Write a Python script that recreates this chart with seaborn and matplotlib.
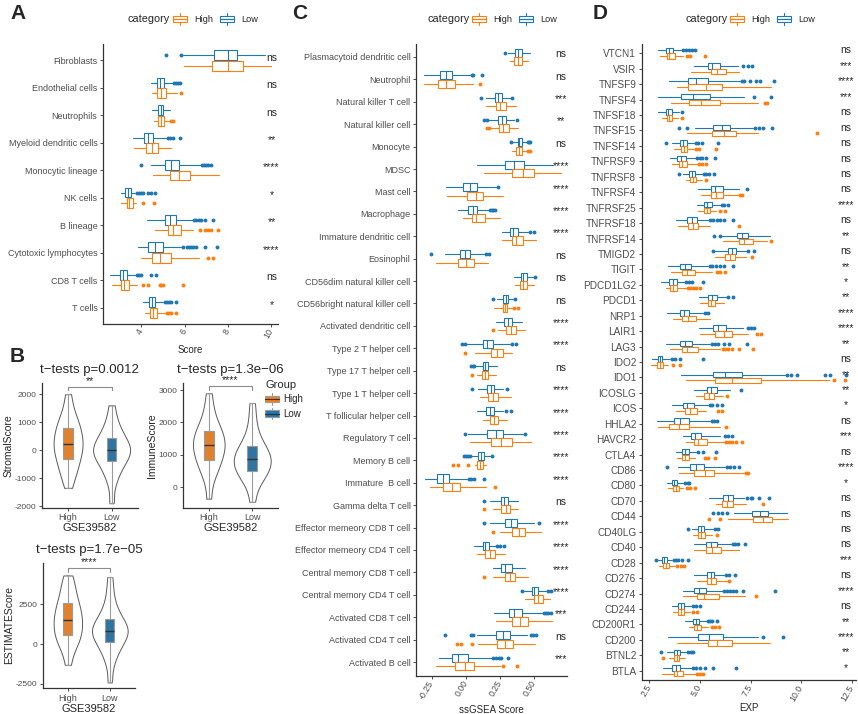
import numpy as np
import pandas as pd
import matplotlib
matplotlib.use("Agg")
import matplotlib.pyplot as plt
import seaborn as sns
from matplotlib.patches import Rectangle, Patch
from matplotlib.lines import Line2D
from matplotlib.legend_handler import HandlerBase

# ---- panel A: immune cell scores (MCP-counter) ----
# box stats per row: (lower whisker, q1, median, q3, upper whisker)
A_CELLS = ["Fibroblasts", "Endothelial cells", "Neutrophils", "Myeloid dendritic cells",
           "Monocytic lineage", "NK cells", "B lineage", "Cytotoxic lymphocytes",
           "CD8 T cells", "T cells"]
A_LOW = [(5.95, 7.37, 8.0, 8.41, 9.7), (4.46, 4.75, 4.89, 5.07, 5.44), (4.52, 4.8, 4.9, 5.03, 5.35),
         (3.63, 4.14, 4.34, 4.57, 5.18), (4.45, 5.09, 5.4, 5.76, 6.71), (3.07, 3.28, 3.4, 3.53, 3.72),
         (4.28, 5.12, 5.35, 5.61, 6.38), (3.86, 4.34, 4.63, 5.0, 5.87), (2.57, 3.03, 3.16, 3.34, 3.72),
         (4.11, 4.35, 4.49, 4.66, 5.03)]
A_LOW_OUT = [[5.15, 5.85], [5.5, 5.6, 5.7, 5.8], [], [5.26, 5.35, 5.45, 5.8],
             [3.99, 6.8, 6.9, 7.0, 7.1, 7.2], [3.8, 3.9, 4.0, 4.1, 4.3, 4.45, 4.64],
             [6.45, 6.55, 6.65, 6.75, 6.95, 7.3], [5.95, 6.1, 6.2, 6.3, 6.4, 6.55, 6.96, 7.51],
             [3.8, 3.9, 4.0, 4.45, 4.68], [5.1, 5.2, 5.3, 5.4, 5.61]]
A_HIGH = [(5.96, 7.28, 8.01, 8.7, 10.0), (4.49, 4.72, 4.93, 5.15, 5.64), (4.61, 4.8, 4.92, 5.06, 5.33),
          (3.69, 4.23, 4.49, 4.8, 5.38), (4.54, 5.33, 5.76, 6.27, 7.57), (3.1, 3.34, 3.46, 3.63, 3.77),
          (4.63, 5.23, 5.49, 5.82, 6.4), (3.99, 4.52, 4.89, 5.38, 6.68), (2.67, 3.07, 3.22, 3.43, 3.83),
          (4.16, 4.43, 4.57, 4.72, 5.13)]
A_HIGH_OUT = [[], [5.85], [5.38, 5.45], [], [], [4.08, 4.58], [6.7, 6.95, 7.1, 7.2, 7.55],
              [7.1, 7.3], [4.11, 4.32, 4.85, 4.92, 5.0, 5.92], [5.2, 5.3, 5.4, 5.62]]
A_SIG = ["ns", "ns", "ns", "**", "****", "*", "**", "****", "ns", "*"]

# ---- panel B: ESTIMATE scores (representative values per group) ----
STROMAL_HIGH = [-1350, -1000, -800, -650, -480, -330, -200, -80, 30, 120, 220,
                330, 450, 560, 680, 800, 930, 1080, 1250, 1550, 2000]
STROMAL_LOW = [-1900, -1200, -900, -700, -550, -400, -300, -220, -150, -80, 0,
               80, 150, 230, 320, 430, 550, 700, 900, 1150, 1600]
IMMUNE_HIGH = [-350, 200, 450, 600, 720, 830, 940, 1050, 1150, 1230, 1300,
               1380, 1470, 1560, 1650, 1750, 1870, 2000, 2200, 2500, 2900]
IMMUNE_LOW = [-450, 0, 200, 320, 420, 500, 580, 660, 730, 800, 870,
              940, 1010, 1090, 1170, 1270, 1400, 1550, 1800, 2150, 2600]
ESTIMATE_HIGH = [-1300, -500, -100, 150, 350, 550, 750, 950, 1150, 1320, 1500,
                 1700, 1900, 2100, 2300, 2550, 2800, 3100, 3500, 3900, 4300]
ESTIMATE_LOW = [-2400, -1200, -700, -350, -100, 130, 320, 480, 620, 740, 850,
                960, 1080, 1200, 1380, 1600, 1850, 2150, 2600, 3300, 4200]

# ---- panel C: ssGSEA immune infiltration ----
C_CELLS = ["Plasmacytoid dendritic cell", "Neutrophil", "Natural killer T cell", "Natural killer cell",
           "Monocyte", "MDSC", "Mast cell", "Macrophage", "Immature dendritic cell", "Eosinophil",
           "CD56dim natural killer cell", "CD56bright natural killer cell", "Activated dendritic cell",
           "Type 2 T helper cell", "Type 17 T helper cell", "Type 1 T helper cell",
           "T follicular helper cell", "Regulatory T cell", "Memory B cell", "Immature  B cell",
           "Gamma delta T cell", "Effector memeory CD8 T cell", "Effector memeory CD4 T cell",
           "Central memory CD8 T cell", "Central memory CD4 T cell", "Activated CD8 T cell",
           "Activated CD4 T cell", "Activated B cell"]
C_LOW = [(0.307, 0.36, 0.382, 0.409, 0.47), (-0.31, -0.193, -0.149, -0.1, 0.036),
         (0.148, 0.214, 0.236, 0.263, 0.324), (0.165, 0.236, 0.263, 0.292, 0.355),
         (0.348, 0.378, 0.392, 0.409, 0.446), (0.085, 0.287, 0.353, 0.428, 0.64),
         (-0.146, -0.022, 0.031, 0.08, 0.221), (-0.061, 0.019, 0.051, 0.085, 0.173),
         (0.263, 0.324, 0.348, 0.385, 0.458), (-0.156, -0.042, -0.005, 0.031, 0.136),
         (0.353, 0.404, 0.421, 0.446, 0.49), (0.227, 0.275, 0.292, 0.311, 0.348),
         (0.219, 0.28, 0.307, 0.336, 0.409), (0.007, 0.124, 0.153, 0.202, 0.324),
         (0.073, 0.124, 0.143, 0.165, 0.227), (0.088, 0.158, 0.182, 0.209, 0.275),
         (0.08, 0.148, 0.178, 0.207, 0.275), (0.019, 0.158, 0.219, 0.268, 0.417),
         (0.039, 0.092, 0.112, 0.134, 0.178), (-0.298, -0.212, -0.171, -0.12, 0.007),
         (0.173, 0.258, 0.28, 0.307, 0.385), (0.173, 0.287, 0.329, 0.373, 0.501),
         (0.063, 0.124, 0.143, 0.17, 0.221), (0.195, 0.258, 0.287, 0.336, 0.434),
         (0.426, 0.482, 0.499, 0.531, 0.585), (0.207, 0.317, 0.355, 0.414, 0.556),
         (0.08, 0.221, 0.275, 0.324, 0.446), (-0.2, -0.102, -0.054, 0.012, 0.19)]
C_LOW_OUT = [[0.285], [0.045, 0.055, 0.117], [0.112, 0.34], [0.129, 0.153, 0.373],
             [0.331, 0.452, 0.46, 0.47], [], [0.238], [0.18, 0.19, 0.2, 0.21], [0.47, 0.5],
             [-0.256, 0.148, 0.17], [0.507], [0.202, 0.36], [], [-0.025, -0.005, 0.336, 0.365],
             [0.036, 0.05, 0.06], [0.044, 0.3], [0.29, 0.33], [-0.005, 0.43],
             [-0.012, 0.0, 0.015, 0.03, 0.19], [0.02, 0.04, 0.06, 0.134], [0.136], [0.136, 0.538],
             [0.23, 0.25, 0.28], [], [0.414, 0.6, 0.62], [0.57, 0.585, 0.6, 0.62],
             [-0.151, 0.04, 0.05, 0.48, 0.49, 0.51], [0.2, 0.22, 0.24, 0.26, 0.307]]
C_HIGH = [(0.324, 0.355, 0.382, 0.414, 0.458), (-0.31, -0.205, -0.144, -0.083, 0.049),
          (0.146, 0.219, 0.253, 0.292, 0.368), (0.185, 0.241, 0.275, 0.319, 0.385),
          (0.341, 0.368, 0.387, 0.409, 0.446), (0.136, 0.341, 0.417, 0.501, 0.694),
          (-0.139, 0.007, 0.073, 0.124, 0.275), (-0.018, 0.044, 0.075, 0.141, 0.251),
          (0.263, 0.336, 0.368, 0.417, 0.514), (-0.217, -0.058, 0.0, 0.056, 0.165),
          (0.36, 0.397, 0.421, 0.446, 0.499), (0.207, 0.268, 0.287, 0.304, 0.336),
          (0.238, 0.295, 0.331, 0.365, 0.434), (0.068, 0.185, 0.227, 0.27, 0.341),
          (0.08, 0.117, 0.141, 0.165, 0.219), (0.1, 0.165, 0.202, 0.238, 0.329),
          (0.122, 0.173, 0.207, 0.238, 0.3), (0.031, 0.185, 0.258, 0.336, 0.475),
          (0.068, 0.085, 0.105, 0.124, 0.148), (-0.261, -0.171, -0.102, -0.042, 0.146),
          (0.202, 0.258, 0.292, 0.324, 0.385), (0.251, 0.341, 0.392, 0.434, 0.55),
          (0.08, 0.141, 0.173, 0.214, 0.287), (0.195, 0.287, 0.324, 0.36, 0.458),
          (0.43, 0.501, 0.526, 0.563, 0.616), (0.221, 0.336, 0.397, 0.458, 0.629),
          (0.092, 0.231, 0.287, 0.348, 0.507), (-0.217, -0.078, -0.01, 0.063, 0.251)]
C_HIGH_OUT = [[], [0.1], [], [0.153, 0.17], [0.455, 0.47], [], [], [], [], [], [],
              [0.353, 0.385], [0.202], [-0.005], [0.044], [], [], [], [-0.095, -0.054, 0.012],
              [0.214], [0.129], [0.202], [], [0.129], [], [], [-0.066, -0.034, 0.044], [0.27, 0.373]]
C_SIG = ["ns", "ns", "***", "**", "ns", "****", "****", "****", "****", "ns", "ns", "ns", "****",
         "****", "ns", "****", "****", "****", "****", "****", "ns", "****", "****", "****", "****",
         "***", "ns", "***"]

# ---- panel D: immune checkpoint expression ----
D_GENES = ["VTCN1", "VSIR", "TNFSF9", "TNFSF4", "TNFSF18", "TNFSF15", "TNFSF14", "TNFRSF9",
           "TNFRSF8", "TNFRSF4", "TNFRSF25", "TNFRSF18", "TNFRSF14", "TMIGD2", "TIGIT", "PDCD1LG2",
           "PDCD1", "NRP1", "LAIR1", "LAG3", "IDO2", "IDO1", "ICOSLG", "ICOS", "HHLA2", "HAVCR2",
           "CTLA4", "CD86", "CD80", "CD70", "CD44", "CD40LG", "CD40", "CD28", "CD276", "CD274",
           "CD244", "CD200R1", "CD200", "BTNL2", "BTLA"]
D_LOW = [(2.92, 3.33, 3.46, 3.66, 4.1), (4.71, 5.39, 5.6, 6.0, 6.9), (3.48, 4.4, 4.81, 5.42, 6.99),
         (2.95, 4.05, 4.68, 5.5, 7.2), (2.95, 3.33, 3.44, 3.64, 3.99), (4.76, 5.67, 6.08, 6.49, 7.64),
         (3.64, 4.02, 4.18, 4.35, 4.73), (3.53, 3.89, 4.07, 4.3, 4.76), (4.18, 4.48, 4.63, 4.78, 5.12),
         (4.93, 5.54, 5.75, 6.13, 6.94), (4.88, 5.22, 5.37, 5.6, 6.0), (3.82, 4.38, 4.61, 4.84, 5.42),
         (6.08, 6.85, 7.1, 7.4, 8.47), (5.75, 6.38, 6.57, 6.79, 7.31), (3.44, 4.02, 4.27, 4.56, 5.42),
         (3.08, 3.49, 3.66, 3.85, 4.27), (4.97, 5.42, 5.59, 5.83, 6.33), (3.36, 4.02, 4.23, 4.48, 5.17),
         (4.97, 5.63, 5.91, 6.28, 7.15), (3.33, 4.02, 4.27, 4.6, 5.5), (2.62, 2.92, 3.03, 3.15, 3.53),
         (4.07, 5.63, 6.24, 7.1, 9.21), (4.71, 5.34, 5.55, 5.83, 6.49), (3.61, 4.18, 4.38, 4.71, 5.42),
         (2.87, 3.72, 4.02, 4.46, 5.5), (4.15, 4.55, 4.76, 5.04, 6.0), (3.8, 4.13, 4.28, 4.46, 4.81),
         (3.94, 4.51, 4.81, 5.22, 6.24), (3.36, 3.64, 3.74, 3.89, 4.22), (5.47, 6.16, 6.38, 6.62, 7.18),
         (6.66, 7.59, 7.97, 8.35, 9.32), (4.6, 4.93, 5.04, 5.21, 5.67), (4.73, 5.3, 5.55, 5.83, 6.57),
         (2.95, 3.15, 3.25, 3.39, 3.61), (4.73, 5.34, 5.53, 5.72, 6.21), (4.15, 4.71, 4.97, 5.29, 6.16),
         (3.64, 3.94, 4.07, 4.22, 4.56), (4.27, 4.65, 4.79, 4.96, 5.34), (3.44, 4.89, 5.47, 6.16, 7.89),
         (3.39, 3.74, 3.85, 4.02, 4.4), (3.16, 3.61, 3.82, 4.02, 4.6)]
D_LOW_OUT = [[4.18, 4.3, 4.45, 4.6, 4.76], [7.15, 7.36, 7.56], [7.07, 7.2, 7.45, 7.75, 7.97, 8.67],
             [7.68, 8.5], [4.1], [3.99, 4.38, 7.72, 7.9, 8.1, 8.55], [3.33, 4.8, 4.9, 5.1, 5.91],
             [4.85, 4.98, 5.1, 5.3, 5.75], [3.99, 5.2, 5.3, 5.45, 5.7], [7.31], [6.08, 6.2, 6.4],
             [5.5, 5.65, 5.85, 6.0, 6.2, 6.65], [5.72, 6.0], [5.63, 7.4, 7.69],
             [5.5, 5.6, 5.8, 6.0, 6.2, 6.65], [4.32, 4.45, 4.6, 5.14], [6.41, 6.62], [5.25, 5.38],
             [7.4, 7.5, 7.67], [5.6, 5.75, 5.9, 6.2, 6.45, 7.31], [3.61, 3.77, 4.02, 5.17],
             [9.3, 9.5, 9.82, 11.19, 11.43, 12.22], [7.03], [5.5, 5.6, 5.83, 6.08], [5.58, 5.7, 5.86],
             [6.24, 6.4, 6.57], [4.93, 5.17, 5.8], [3.36, 6.33, 6.5, 6.7, 6.95], [4.28, 4.4, 4.48],
             [7.31, 7.5, 7.56, 7.94, 8.39], [5.67, 5.9, 6.1, 6.32], [4.4, 5.75, 5.91],
             [6.62, 6.75, 6.9, 7.23], [2.82, 3.7, 3.8, 3.9, 4.1, 4.4], [6.28, 6.46, 6.74],
             [6.2, 6.35, 6.5, 6.65, 6.8, 7.15, 8.71], [4.65, 4.8, 5.01], [5.4, 5.5, 5.6, 5.83],
             [8.1, 9.09], [3.08, 4.43, 4.55, 4.68], [4.68, 4.8, 5.0, 5.25, 5.67, 6.79]]
D_HIGH = [(3.03, 3.36, 3.49, 3.77, 4.18), (4.56, 5.55, 5.83, 6.28, 6.95), (3.89, 4.43, 5.29, 6.11, 8.5),
          (3.57, 4.45, 5.04, 5.98, 7.89), (3.11, 3.36, 3.48, 3.64, 3.94), (4.35, 5.59, 6.2, 6.77, 7.86),
          (3.74, 4.05, 4.22, 4.38, 4.76), (3.61, 3.95, 4.13, 4.38, 4.85), (4.32, 4.51, 4.68, 4.81, 5.12),
          (5.04, 5.55, 5.78, 6.13, 6.94), (4.93, 5.21, 5.34, 5.5, 5.78), (3.94, 4.4, 4.65, 4.91, 5.5),
          (6.13, 6.95, 7.2, 7.6, 8.3), (5.75, 6.26, 6.49, 6.74, 7.27), (3.57, 4.1, 4.35, 4.76, 5.58),
          (3.33, 3.53, 3.69, 3.89, 4.32), (5.01, 5.39, 5.55, 5.75, 6.19), (3.66, 4.13, 4.4, 4.81, 5.5),
          (5.01, 5.75, 6.2, 6.6, 7.4), (3.53, 4.1, 4.35, 4.93, 6.0), (2.59, 2.9, 3.03, 3.16, 3.44),
          (4.32, 5.75, 6.57, 8.02, 11.4), (4.81, 5.22, 5.44, 5.7, 6.16), (3.8, 4.28, 4.51, 4.88, 5.3),
          (2.95, 3.48, 3.99, 4.46, 6.0), (4.32, 4.71, 4.93, 5.34, 6.19), (3.85, 4.13, 4.27, 4.46, 4.76),
          (3.99, 4.71, 5.25, 5.72, 7.23), (3.44, 3.69, 3.8, 3.97, 4.18), (5.78, 6.11, 6.36, 6.62, 7.27),
          (6.38, 7.61, 8.14, 8.58, 9.34), (4.65, 4.89, 5.04, 5.25, 5.62), (4.73, 5.3, 5.62, 6.03, 6.95),
          (3.0, 3.2, 3.33, 3.49, 3.77), (4.88, 5.34, 5.55, 5.8, 6.36), (4.18, 4.84, 5.22, 5.95, 7.23),
          (3.69, 3.94, 4.05, 4.23, 4.51), (4.48, 4.71, 4.84, 5.04, 5.42), (3.89, 5.39, 5.83, 6.6, 8.47),
          (3.49, 3.72, 3.85, 3.99, 4.27), (3.11, 3.74, 3.89, 4.18, 4.81)]
D_HIGH_OUT = [[4.35, 4.5, 5.25], [], [], [8.22, 8.3], [4.12], [10.77], [4.82, 4.95, 5.8],
              [4.97, 5.1, 5.3], [5.29], [6.99, 7.08], [6.0, 6.26], [6.95], [8.5], [7.56],
              [5.86, 6.0, 6.24], [4.4, 4.5, 4.65, 4.8, 5.0], [], [], [7.84, 8.0],
              [6.13, 6.25, 6.4, 6.6, 6.95, 7.61], [3.66, 4.02], [11.6, 12.18], [6.33], [5.91, 6.08],
              [6.28], [6.28, 6.45, 6.6, 6.8, 7.1], [5.25, 5.4, 5.75], [7.27, 7.4], [4.35, 4.5, 4.76],
              [8.14], [5.47, 6.0], [5.83], [], [3.89, 4.07, 4.22], [6.44], [7.76], [4.65, 4.84],
              [5.59, 5.75, 5.95], [], [3.16], [4.88, 5.0, 5.14]]
D_SIG = ["ns", "***", "****", "***", "ns", "ns", "ns", "ns", "ns", "ns", "****", "ns", "**", "ns",
         "**", "*", "**", "****", "****", "**", "ns", "**", "**", "*", "ns", "***", "ns", "****", "*",
         "ns", "ns", "ns", "ns", "***", "ns", "****", "ns", "**", "****", "**", "*"]

W, H = 858, 714
ORANGE = "#FF7F0E"
BLUE = "#1F77B4"
GREY = "#4D4D4D"


def rect(l, t, r, b):
    # pixel box (left, top, right, bottom) -> figure fraction
    return [l / W, 1 - b / H, (r - l) / W, (b - t) / H]


class BoxKey(HandlerBase):
    """ggplot-like boxplot legend key."""
    def __init__(self, med=None):
        super().__init__()
        self.med = med

    def create_artists(self, legend, orig_handle, xd, yd, width, height, fontsize, trans):
        x0, y0 = -xd, -yd
        ec = orig_handle.get_edgecolor()
        fc = orig_handle.get_facecolor()
        mid = x0 + width / 2
        parts = [
            Line2D([mid, mid], [y0, y0 + height], color=ec, lw=0.8),
            Rectangle((x0, y0 + height * 0.2), width, height * 0.6, facecolor=fc, edgecolor=ec, lw=0.8),
            Line2D([x0, x0 + width], [y0 + height / 2] * 2, color=self.med or ec, lw=0.9),
        ]
        for p in parts:
            p.set_transform(trans)
        return parts


def category_legend(fig, x_px):
    fig.text(x_px / W, 1 - 19 / H, "category", fontsize=7.8, va="center", ha="left")
    handles = [Patch(facecolor="white", edgecolor=ORANGE), Patch(facecolor="white", edgecolor=BLUE)]
    fig.legend(handles, ["High", "Low"], loc="center left", bbox_to_anchor=((x_px + 45) / W, 1 - 19 / H),
               ncol=2, frameon=False, fontsize=6.6, handlelength=1.5, handleheight=1.5,
               handletextpad=0.8, columnspacing=0.8, borderpad=0, borderaxespad=0,
               handler_map={Patch: BoxKey()})


def box_panel(ax, names, low, low_out, high, high_out, sig, sig_x, xlim, xticks, xlabels, xlabel, fs,
              labelpad=3):
    n = len(names)
    for stats, outs, off, col in [(low, low_out, -0.19, BLUE), (high, high_out, 0.19, ORANGE)]:
        bstats = [dict(whislo=s[0], q1=s[1], med=s[2], q3=s[3], whishi=s[4], fliers=np.array(o))
                  for s, o in zip(stats, outs)]
        line = dict(color=col, linewidth=0.8)
        ax.bxp(bstats, positions=np.arange(n) + off, widths=0.36, orientation="horizontal",
               showcaps=False, patch_artist=True, manage_ticks=False,
               boxprops=dict(facecolor="white", edgecolor=col, linewidth=0.8),
               whiskerprops=line, medianprops=line,
               flierprops=dict(marker="o", markerfacecolor=col, markeredgecolor=col,
                               markersize=1.8, linestyle="none"))
    for i, s in enumerate(sig):
        ax.annotate(s, (sig_x, i), xytext=(0, 2), textcoords="offset points",
                    ha="center", va="center", fontsize=7.5, annotation_clip=False)
    ax.set_xlim(xlim)
    ax.set_ylim(n - 0.4, -0.6)
    ax.set_yticks(range(n))
    ax.set_yticklabels(names, fontsize=fs, color=GREY)
    ax.set_xticks(xticks)
    ax.set_xticklabels(xlabels, rotation=60, ha="right", va="center", rotation_mode="anchor",
                       fontsize=6.3, color=GREY)
    ax.set_xlabel(xlabel, fontsize=7, labelpad=labelpad)
    style_axes(ax)


def style_axes(ax):
    sns.despine(ax=ax)
    ax.grid(False)
    ax.set_facecolor("white")
    ax.tick_params(length=2.5, width=0.6, color="#333333", pad=1.5)
    for s in ["left", "bottom"]:
        ax.spines[s].set_linewidth(0.9)
        ax.spines[s].set_color("#333333")


def violin_panel(ax, high, low, ylabel, title, star, yticks, ylim):
    df = pd.DataFrame({"Group": ["High"] * len(high) + ["Low"] * len(low), "score": high + low})
    sns.violinplot(data=df, x="Group", y="score", ax=ax, color="white", linecolor="#5a5a5a",
                   linewidth=0.7, inner=None, cut=0, density_norm="area", width=0.85, bw_adjust=0.75)
    sns.boxplot(data=df, x="Group", y="score", hue="Group", palette={"High": ORANGE, "Low": BLUE},
                ax=ax, width=0.22, whis=(0, 100), showfliers=False, linecolor="#9a9a9a",
                linewidth=0.8, medianprops={"color": "#333333", "linewidth": 1}, legend=False)
    span = ylim[1] - ylim[0]
    top = max(high + low) + 0.06 * span
    d = 0.03 * span
    ax.plot([0, 0, 1, 1], [top - d, top, top, top - d], color="#8c8c8c", lw=0.8, clip_on=False)
    ax.text(0.5, top + 0.005 * span, star, ha="center", va="bottom", fontsize=7.5)
    ax.set_xlim(-0.6, 1.6)
    ax.set_ylim(ylim)
    ax.set_yticks(yticks)
    ax.tick_params(axis="y", labelsize=6, labelcolor=GREY)
    ax.tick_params(axis="x", labelsize=6.5, labelcolor=GREY)
    ax.set_title(title, fontsize=9.5, pad=7)
    ax.set_xlabel("GSE39582", fontsize=8, labelpad=0.5)
    ax.set_ylabel(ylabel, fontsize=7.5, labelpad=1)
    style_axes(ax)


sns.set_theme(style="ticks")
plt.rcParams["font.family"] = ["Liberation Sans", "DejaVu Sans"]
plt.rcParams["axes.unicode_minus"] = False

fig = plt.figure(figsize=(W / 100, H / 100), dpi=100)

# A
axA = fig.add_axes(rect(103, 44, 278, 324))
box_panel(axA, A_CELLS, A_LOW, A_LOW_OUT, A_HIGH, A_HIGH_OUT, A_SIG, 10.0, (2.25, 10.3),
          [4, 6, 8, 10], ["4", "6", "8", "10"], "Score", 6.5)
category_legend(fig, 128)

# C
axC = fig.add_axes(rect(416, 43.5, 567, 675.5))
box_panel(axC, C_CELLS, C_LOW, C_LOW_OUT, C_HIGH, C_HIGH_OUT, C_SIG, 0.697, (-0.365, 0.74),
          [-0.25, 0, 0.25, 0.5], ["-0.25", "0.00", "0.25", "0.50"], "ssGSEA Score", 6.5)
category_legend(fig, 427)

# D
axD = fig.add_axes(rect(641.7, 44, 856, 680))
box_panel(axD, D_GENES, D_LOW, D_LOW_OUT, D_HIGH, D_HIGH_OUT, D_SIG, 12.22, (2.125, 12.71),
          [2.5, 5.0, 7.5, 10.0, 12.5], ["2.5", "5.0", "7.5", "10.0", "12.5"], "EXP", 7.2,
          labelpad=0.5)
category_legend(fig, 685)

# B
axB1 = fig.add_axes(rect(42, 383, 137.7, 507.7))
violin_panel(axB1, STROMAL_HIGH, STROMAL_LOW, "StromalScore", "t\u2212tests p=0.0012", "**",
             [-2000, -1000, 0, 1000, 2000], (-2060, 2400))
axB2 = fig.add_axes(rect(182.7, 383, 278.3, 507.7))
violin_panel(axB2, IMMUNE_HIGH, IMMUNE_LOW, "ImmuneScore", "t\u2212tests p=1.3e\u221206", "****",
             [0, 1000, 2000, 3000], (-630, 3216))
axB3 = fig.add_axes(rect(42.7, 562.7, 135, 688.3))
violin_panel(axB3, ESTIMATE_HIGH, ESTIMATE_LOW, "ESTIMATEScore", "t\u2212tests p=1.7e\u221205", "****",
             [-2500, 0, 2500], (-2770, 5100))

fig.legend([Patch(facecolor=ORANGE, edgecolor="#9a9a9a"), Patch(facecolor=BLUE, edgecolor="#9a9a9a")],
           ["High", "Low"], title="Group", loc="upper left", bbox_to_anchor=(265 / W, 1 - 380 / H),
           frameon=False, fontsize=7, title_fontsize=8, alignment="left",
           handler_map={Patch: BoxKey(med="#333333")}, handlelength=1.4, handleheight=1.4,
           labelspacing=0.35, handletextpad=0.5, borderpad=0, borderaxespad=0)

for letter, x, y in [("A", 10, 4), ("B", 10, 347), ("C", 292, 4), ("D", 593, 4)]:
    fig.text(x / W, 1 - y / H, letter, fontsize=15, fontweight="bold", va="top", ha="left")

fig.savefig("out.png", dpi=100)
